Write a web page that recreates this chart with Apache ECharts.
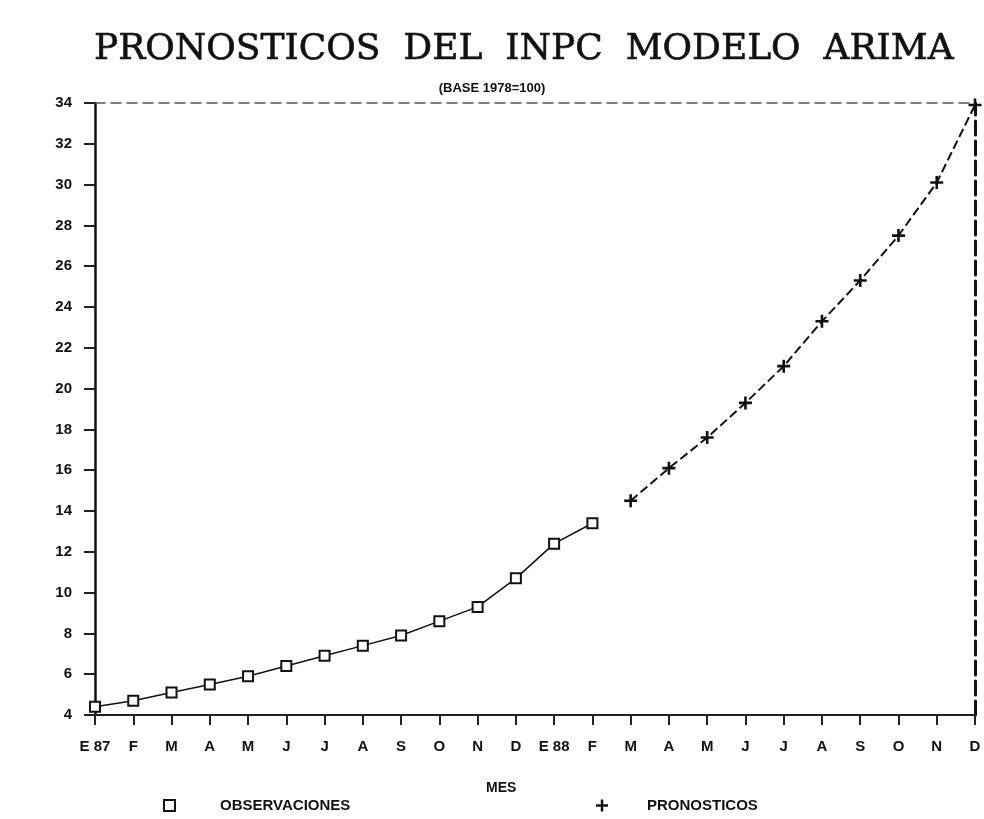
<!DOCTYPE html>
<html>
<head>
<meta charset="utf-8">
<script src="https://cdn.jsdelivr.net/npm/echarts@6/dist/echarts.min.js"></script>
<style>
  html, body { margin: 0; padding: 0; background: #fff; }
  #chart { width: 984px; height: 819px; }
</style>
</head>
<body>
<div id="chart"></div>
<script>
  // meses ene-87 a dic-88
  const meses = ['E 87', 'F', 'M', 'A', 'M', 'J', 'J', 'A', 'S', 'O', 'N', 'D',
                 'E 88', 'F', 'M', 'A', 'M', 'J', 'J', 'A', 'S', 'O', 'N', 'D'];
  // INPC observado (E 87 - F 88)
  const observaciones = [4.4, 4.7, 5.1, 5.5, 5.9, 6.4, 6.9, 7.4, 7.9, 8.6, 9.3, 10.7, 12.4, 13.4];
  // pronosticos ARIMA (M 88 - D 88)
  const pronosticos = [14.5, 16.1, 17.6, 19.3, 21.1, 23.3, 25.3, 27.5, 30.1, 33.9];
  const yTicks = [4, 34, 2];

  const obsData = meses.map((m, i) => i < observaciones.length ? observaciones[i] : null);
  const proData = meses.map((m, i) => {
    const k = i - observaciones.length;
    return k >= 0 ? pronosticos[k] : null;
  });

  const plus = 'path://M4,0h2v4h4v2h-4v4h-2v-4h-4v-2h4z';
  const bold = { fontFamily: 'Liberation Sans', fontWeight: 'bold', color: '#111' };

  const chart = echarts.init(document.getElementById('chart'));
  chart.setOption({
    animation: false,
    backgroundColor: '#fff',
    title: [
      {
        text: 'PRONOSTICOS  DEL  INPC  MODELO  ARIMA',
        left: 89, top: 27,
        textStyle: { fontFamily: 'DejaVu Serif', fontSize: 36, fontWeight: 'normal', color: '#111', textBorderColor: '#111', textBorderWidth: 0.6 }
      },
      {
        text: '(BASE 1978=100)',
        left: 'center', top: 77,
        textStyle: Object.assign({ fontSize: 13 }, bold)
      }
    ],
    legend: [
      {
        data: [{ name: 'OBSERVACIONES', icon: 'rect' }],
        left: 158, top: 793, itemWidth: 11, itemHeight: 11,
        textStyle: Object.assign({ fontSize: 15, padding: [0, 0, 0, 40] }, bold)
      },
      {
        data: [{ name: 'PRONOSTICOS', icon: plus }],
        left: 591, top: 793, itemWidth: 12, itemHeight: 12,
        textStyle: Object.assign({ fontSize: 15, padding: [0, 0, 0, 34] }, bold)
      }
    ],
    graphic: [
      {
        type: 'text', left: 486, top: 781,
        style: Object.assign({ text: 'MES', fontSize: 14, fill: '#111' }, { fontFamily: 'Liberation Sans', fontWeight: 'bold' })
      }
    ],
    grid: { left: 95, right: 9, top: 103, bottom: 104 },
    xAxis: [
      {
        type: 'category',
        data: meses,
        boundaryGap: false,
        axisLine: { lineStyle: { color: '#222', width: 2 } },
        axisTick: { inside: false, length: 10, alignWithLabel: true, lineStyle: { color: '#222', width: 2 } },
        axisLabel: Object.assign({ fontSize: 15, margin: 24, interval: 0 }, bold)
      },
      {
        type: 'category',
        data: meses,
        boundaryGap: false,
        position: 'top',
        axisLine: { lineStyle: { color: '#555', width: 1.5, type: [10, 6] } },
        axisTick: { show: false },
        axisLabel: { show: false }
      }
    ],
    yAxis: [
      {
        type: 'value',
        min: yTicks[0], max: yTicks[1], interval: yTicks[2],
        splitLine: { show: false },
        axisLine: { show: true, lineStyle: { color: '#111', width: 2.5 } },
        axisTick: { show: true, length: 11, lineStyle: { color: '#222', width: 2 } },
        axisLabel: Object.assign({ fontSize: 15, margin: 23 }, bold)
      },
      {
        type: 'value',
        min: yTicks[0], max: yTicks[1], interval: yTicks[2],
        position: 'right',
        splitLine: { show: false },
        axisLine: { show: true, lineStyle: { color: '#111', width: 3, type: [14, 6] } },
        axisTick: { show: false },
        axisLabel: { show: false }
      }
    ],
    series: [
      {
        name: 'OBSERVACIONES',
        type: 'line',
        data: obsData,
        symbol: 'rect',
        symbolSize: 10,
        showAllSymbol: true,
        itemStyle: { color: '#fff', borderColor: '#111', borderWidth: 2 },
        lineStyle: { color: '#111', width: 1.5 }
      },
      {
        name: 'PRONOSTICOS',
        type: 'line',
        data: proData,
        symbol: plus,
        symbolSize: 13,
        showAllSymbol: true,
        itemStyle: { color: '#111' },
        lineStyle: { color: '#111', width: 2, type: [9, 4] }
      }
    ]
  });
</script>
</body>
</html>
